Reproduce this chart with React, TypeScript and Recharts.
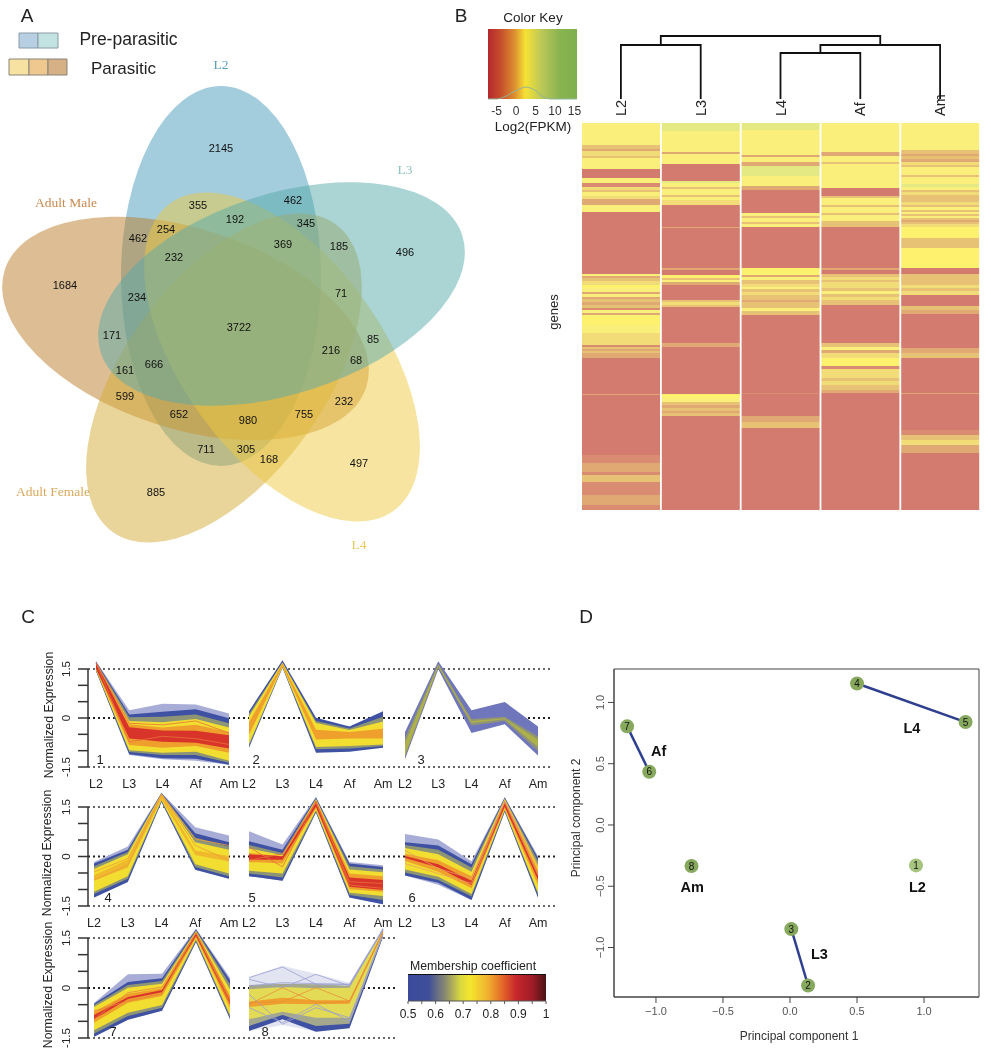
import {
  Area,
  AreaChart,
  Bar,
  BarChart,
  Cell,
  ComposedChart,
  Line,
  LineChart,
  ReferenceArea,
  ReferenceLine,
  Scatter,
  ScatterChart,
  XAxis,
  YAxis,
} from "recharts"

const SANS = '"Liberation Sans", Arial, sans-serif'
const SERIF = '"Liberation Serif", serif'

// ---- Panel A: Venn ----
const lobeNames = ["L2", "Adult Male", "Adult Female", "L4", "L3"]
const lobeX = [221, 185.5, 224, 282, 281.5]
const lobeY = [276, 328.5, 378, 357, 294]
const lobeTilt = [0, -72, 36, -36, 72]
const lobeFill = ["#4799BB", "#BB7D29", "#D3A935", "#EDC941", "#57A9A9"]

const vennCounts = [2145, 462, 355, 192, 345, 254, 462, 369, 185, 232, 496, 1684, 234, 71, 3722, 171, 85, 216, 68, 666, 161, 599, 232, 652, 755, 980, 711, 305, 168, 497, 885]
const vennCountX = [221, 293, 198, 235, 306, 166, 138, 283, 339, 174, 405, 65, 137, 341, 239, 112, 373, 331, 356, 154, 125, 125, 344, 179, 304, 248, 206, 246, 269, 359, 156]
const vennCountY = [148, 200, 205, 219, 223, 229, 238, 244, 246, 257, 252, 285, 297, 293, 327, 335, 339, 350, 360, 364, 370, 396, 401, 414, 414, 420, 449, 449, 459, 463, 492]

const vennLabels = ["L2", "L3", "Adult Male", "Adult Female", "L4"]
const vennLabelX = [221, 405, 66, 53, 359]
const vennLabelY = [65, 170, 203, 492, 545]
const vennLabelFill = ["#5B9FC0", "#8FC4C4", "#C9894F", "#D9A95B", "#ECC860"]

// ---- Panel B: heatmap, [rows, level] from top to bottom ----
const stages = ["L2", "L3", "L4", "Af", "Am"]
const heatLevelFill = ["#D47B70", "#D98C72", "#E0A872", "#E8C274", "#F2DC78", "#FBEF7C", "#FDF16E", "#E4E984"]

const heatL2 = [[22,5],[4,3],[2,2],[5,4],[2,3],[11,5],[9,0],[5,5],[4,1],[3,4],[2,3],[4,5],[3,4],[6,2],[7,5],[62,0],[2,5],[2,2],[3,3],[4,4],[3,6],[4,5],[2,2],[3,5],[2,2],[3,3],[3,2],[3,3],[2,1],[3,5],[2,2],[10,6],[8,5],[12,4],[2,1],[2,3],[2,2],[2,3],[2,2],[3,2],[36,0],[1,2],[60,0],[8,1],[9,2],[3,1],[7,3],[13,1],[10,2],[5,1]]
const heatL3 = [[8,7],[21,5],[2,2],[10,5],[17,0],[2,7],[4,5],[2,3],[6,5],[2,3],[3,5],[5,4],[22,0],[1,2],[40,0],[2,2],[5,0],[3,6],[2,3],[2,5],[3,2],[15,0],[2,3],[3,4],[2,3],[36,0],[4,2],[47,0],[4,6],[4,5],[3,3],[3,2],[3,3],[2,2],[3,3],[94,0]]
const heatL4 = [[7,7],[7,5],[18,5],[2,2],[5,5],[4,2],[10,7],[10,5],[4,2],[23,0],[3,5],[2,3],[4,5],[2,3],[3,5],[41,0],[7,6],[2,2],[3,5],[4,3],[3,4],[2,5],[3,3],[3,4],[5,3],[2,2],[6,3],[3,5],[4,3],[78,0],[1,1],[22,0],[6,2],[6,3],[82,0]]
const heatAf = [[29,5],[4,2],[6,5],[2,3],[24,5],[8,0],[2,3],[7,5],[2,3],[6,5],[2,3],[6,5],[6,3],[41,0],[2,2],[4,0],[3,3],[3,4],[2,3],[6,4],[3,3],[3,5],[3,3],[3,4],[5,3],[38,0],[4,3],[3,5],[3,2],[5,4],[8,6],[3,1],[9,4],[3,3],[4,4],[5,3],[3,2],[117,0]]
const heatAm = [[27,5],[4,3],[2,2],[3,3],[3,2],[3,4],[2,3],[8,5],[2,3],[7,5],[3,7],[3,5],[2,3],[3,4],[3,3],[4,3],[3,4],[2,3],[3,5],[2,3],[2,5],[2,3],[2,5],[2,3],[2,2],[2,3],[3,4],[11,6],[10,3],[20,6],[6,0],[11,3],[3,4],[3,3],[4,4],[11,0],[4,3],[4,2],[34,0],[5,2],[5,3],[35,0],[1,2],[36,0],[5,1],[5,3],[5,4],[8,2],[57,0]]
const heatColumns = [heatL2, heatL3, heatL4, heatAf, heatAm]
const heatBandCount = Math.max(...heatColumns.map((c) => c.length))
const heatRows = stages.map((stage, i) => {
  const row: Record<string, number | string> = { stage }
  heatColumns[i].forEach((band, j) => {
    row[`b${j}`] = band[0]
  })
  return row
})

// dendrogram over the heatmap columns (leaf position, merge height)
const dendroBranches = [
  { leaf: [1, 1, 2, 2], height: [0, 54, 54, 0] },
  { leaf: [3, 3, 4, 4], height: [0, 46, 46, 0] },
  { leaf: [3.5, 3.5, 5, 5], height: [46, 54, 54, 0] },
  { leaf: [1.5, 1.5, 4.25, 4.25], height: [54, 63, 63, 54] },
]

const keyX = [-7.2, -5, -3, 0, 2.5, 5, 7, 9, 15.64]
const keyDensity = [0, 0, 0.03, 0.12, 0.17, 0.12, 0.03, 0, 0]
const keyRows = keyX.map((x, i) => ({ x, band: 1, density: keyDensity[i] }))
const keyTicks = [-5, 0, 5, 10, 15]

// ---- Panel C: clusters, each layer is a high and a low profile over the stages ----
const shadeHaze = "#A7ADD6"
const shadeBlue = "#3F51A2"
const shadeOlive = "#8D9575"
const shadeYellow = "#F2DE30"
const shadeOrange = "#EFA02C"
const shadeRed = "#D9342A"

const cluster1Hi = [[1.75,0.25,0.45,0.42,0.15],[1.74,0.12,0.2,0.28,0],[1.72,0.03,0.05,0.12,-0.15],[1.7,-0.08,-0.12,-0.02,-0.28],[1.7,-0.18,-0.28,-0.2,-0.42],[1.7,-0.27,-0.37,-0.38,-0.52]]
const cluster1Lo = [[1.45,-1.12,-1.25,-1.3,-1.42],[1.45,-1.1,-1.22,-1.24,-1.42],[1.47,-1.03,-1.12,-1.12,-1.36],[1.48,-0.98,-1.05,-1.02,-1.3],[1.5,-0.82,-0.9,-0.85,-1.05],[1.52,-0.62,-0.72,-0.75,-0.92]]
const cluster2Hi = [[0.22,1.78,0.02,-0.25,0.22],[0.14,1.72,-0.08,-0.31,0.05],[0.06,1.7,-0.14,-0.36,-0.1],[-0.12,1.68,-0.35,-0.42,-0.32]]
const cluster2Lo = [[-0.9,1.55,-1.05,-1.02,-0.9],[-0.85,1.57,-0.95,-0.92,-0.85],[-0.78,1.58,-0.88,-0.85,-0.8],[-0.5,1.6,-0.65,-0.62,-0.62]]
const cluster3Hi = [[-0.42,1.75,0.25,0.5,-0.25],[-0.6,1.68,-0.02,0.05,-0.55],[-0.75,1.64,-0.08,0,-0.65]]
const cluster3Lo = [[-1.25,1.5,-0.45,-0.18,-1.14],[-1.2,1.56,-0.22,-0.08,-1],[-1.12,1.58,-0.14,-0.03,-0.88]]
const cluster4Hi = [[-0.15,0.32,1.95,0.9,0.65],[-0.2,0.22,1.94,0.72,0.45],[-0.28,0.15,1.93,0.58,0.32],[-0.36,0.08,1.92,0.45,0.22],[-0.55,-0.08,1.9,0.2,0.03]]
const cluster4Lo = [[-1.23,-0.76,1.67,-0.39,-0.66],[-1.23,-0.76,1.67,-0.39,-0.66],[-1.12,-0.66,1.7,-0.3,-0.58],[-1.05,-0.58,1.72,-0.22,-0.5],[-0.72,-0.32,1.75,0.06,-0.14]]
const cluster5Hi = [[0.78,0.38,1.82,-0.15,-0.25],[0.48,0.22,1.8,-0.2,-0.3],[0.36,0.12,1.77,-0.28,-0.38],[0.26,0.05,1.75,-0.38,-0.46],[0.12,0.03,1.72,-0.5,-0.58],[0.08,0.02,1.65,-0.62,-0.7]]
const cluster5Lo = [[-0.58,-0.72,1.35,-1.23,-1.43],[-0.58,-0.72,1.35,-1.23,-1.43],[-0.5,-0.62,1.38,-1.15,-1.3],[-0.42,-0.5,1.42,-1.08,-1.18],[-0.15,-0.2,1.48,-0.98,-1.05],[-0.08,-0.08,1.52,-0.9,-1]]
const cluster6Hi = [[0.7,0.53,-0.13,1.82,0.02],[0.45,0.35,-0.22,1.8,-0.03],[0.36,0.22,-0.32,1.78,-0.12],[0.27,0.08,-0.45,1.76,-0.25],[0.1,-0.1,-0.58,1.72,-0.4],[0.03,-0.22,-0.72,1.68,-0.52]]
const cluster6Lo = [[-0.56,-0.84,-1.3,1.37,-1.23],[-0.56,-0.78,-1.3,1.37,-1.23],[-0.47,-0.7,-1.2,1.4,-1.14],[-0.38,-0.6,-1.12,1.43,-1.08],[-0.12,-0.45,-0.95,1.48,-0.85],[-0.03,-0.32,-0.85,1.52,-0.7]]
const cluster7Hi = [[-0.46,0.4,0.42,1.77,0.3],[-0.48,0.17,0.28,1.75,0.22],[-0.52,0.08,0.2,1.72,0.1],[-0.58,0,0.12,1.7,-0.05],[-0.72,-0.18,-0.02,1.68,-0.25],[-0.82,-0.28,-0.07,1.63,-0.38]]
const cluster7Lo = [[-1.47,-0.96,-0.69,1.37,-0.94],[-1.47,-0.96,-0.69,1.37,-0.94],[-1.38,-0.85,-0.6,1.4,-0.88],[-1.28,-0.75,-0.52,1.45,-0.82],[-1.05,-0.45,-0.25,1.5,-0.6],[-0.95,-0.34,-0.14,1.55,-0.5]]
const cluster8Hi = [[0.32,0.66,0.42,0.15,1.82],[-0.95,-0.55,-1,-0.95,1.78],[0.08,0.12,0.1,0.06,1.76],[-0.05,0.02,-0.02,0,1.74],[-0.42,-0.3,-0.38,-0.38,1.7]]
const cluster8Lo = [[-1.3,-1.12,-1.32,-1.2,1.52],[-1.3,-0.95,-1.32,-1.22,1.52],[-1.15,-0.82,-1.15,-1.08,1.56],[-0.95,-0.72,-0.9,-0.9,1.58],[-0.58,-0.48,-0.5,-0.48,1.62]]

const fullShades = [shadeHaze, shadeBlue, shadeOlive, shadeYellow, shadeOrange, shadeRed]
const clusterShades = [
  fullShades,
  [shadeBlue, shadeOlive, shadeYellow, shadeOrange],
  ["#6F76BC", "#8F9378", "#AEB04A"],
  [shadeHaze, shadeBlue, shadeOlive, shadeYellow, "#F0B82C"],
  fullShades,
  fullShades,
  fullShades,
  ["#E2E4F2", shadeBlue, "#A3A78E", "#E3DA55", shadeOrange],
]
const clusterHi = [cluster1Hi, cluster2Hi, cluster3Hi, cluster4Hi, cluster5Hi, cluster6Hi, cluster7Hi, cluster8Hi]
const clusterLo = [cluster1Lo, cluster2Lo, cluster3Lo, cluster4Lo, cluster5Lo, cluster6Lo, cluster7Lo, cluster8Lo]

// single thin profiles drawn over the bands
const cluster1Strands = [[1.7,-0.15,-0.2,-0.08,-0.45],[1.7,-0.72,-0.55,-0.62,-0.8]]
const cluster4Strands = [[-0.7,-0.25,1.9,0.35,-0.1],[-0.45,-0.05,1.88,0.55,0.35]]
const cluster5Strands = [[0.3,-0.3,1.7,-0.85,-0.95],[-0.1,0.1,1.65,-0.75,-0.8]]
const cluster6Strands = [[0.2,-0.35,-0.65,1.7,-0.3],[-0.2,-0.5,-0.8,1.66,-0.55]]
const cluster7Strands = [[-0.95,-0.15,0.02,1.65,-0.3],[-0.7,-0.4,-0.18,1.65,-0.45]]
const cluster8Orange = [[-0.5,0,-0.45,-0.42,1.68],[-0.45,-0.42,0,-0.4,1.68]]
const cluster8Lavender = [[0.3,0.62,0.1,0.1,1.75],[0.25,0,0.4,0.05,1.75],[-0.2,-1.1,-0.6,-0.9,1.6],[-0.6,-1.05,-0.5,-1,1.6],[0.05,0.15,0.12,0.1,1.72]]
const clusterStrands = [
  [{ shade: "#E8703A", lines: cluster1Strands }],
  [],
  [],
  [{ shade: "#EE9A3A", lines: cluster4Strands }],
  [{ shade: "#E8703A", lines: cluster5Strands }],
  [{ shade: "#E8A060", lines: cluster6Strands }],
  [{ shade: "#E8803A", lines: cluster7Strands }],
  [{ shade: "#9AA0D0", lines: cluster8Lavender }, { shade: "#E8903A", lines: cluster8Orange }],
]

const expressionTicks = [-1.5, -1, -0.5, 0, 0.5, 1, 1.5]
const axisStub = [{ x: 0, v: 0 }, { x: 1, v: 0 }]

const membershipX = [0.5, 1]
const membershipRows = membershipX.map((x) => ({ x, band: 1 }))
const membershipTicks = [0.5, 0.55, 0.6, 0.65, 0.7, 0.75, 0.8, 0.85, 0.9, 0.95, 1]

// ---- Panel D: PCA ----
const pcaSample = [1, 2, 3, 4, 5, 6, 7, 8]
const pcaX = [0.94, 0.135, 0.01, 0.5, 1.31, -1.05, -1.215, -0.735]
const pcaY = [-0.33, -1.31, -0.85, 1.155, 0.84, 0.435, 0.805, -0.335]
const pcaPoints = pcaSample.map((id, i) => ({ id, x: pcaX[i], y: pcaY[i] }))
const pcaPairs = [[3, 4], [5, 6], [2, 1]]
const pcaStage = ["L4", "Af", "Am", "L2", "L3"]
const pcaStageX = [0.91, -0.98, -0.73, 0.95, 0.22]
const pcaStageY = [0.79, 0.6, -0.505, -0.505, -1.05]
const pcaStages = pcaStage.map((name, i) => ({ name, x: pcaStageX[i], y: pcaStageY[i] }))
const pcaTicks = [-1, -0.5, 0, 0.5, 1]

type PageTextProps = {
  x: number
  y: number
  size: number
  children: string
  rotate?: number
  weight?: number
  color?: string
}

function PageText({ x, y, size, children, rotate = 0, weight = 400, color = "#222" }: PageTextProps) {
  return (
    <span
      style={{
        position: "absolute",
        left: x,
        top: y,
        fontFamily: SANS,
        fontSize: size,
        fontWeight: weight,
        color,
        lineHeight: 1,
        whiteSpace: "nowrap",
        transform: `translate(-50%, -50%) rotate(${rotate}deg)`,
      }}
    >
      {children}
    </span>
  )
}

function VennPanel() {
  const lobes = lobeNames.map((name, i) => ({
    name,
    x: lobeX[i],
    y: lobeY[i],
    tilt: lobeTilt[i],
    fill: lobeFill[i],
  }))
  const counts = vennCounts.map((n, i) => ({ n, x: vennCountX[i], y: vennCountY[i] }))
  const labels = vennLabels.map((name, i) => ({ name, x: vennLabelX[i], y: vennLabelY[i], fill: vennLabelFill[i] }))
  return (
    <div style={{ position: "absolute", left: 0, top: 0 }}>
      <ScatterChart width={480} height={570} margin={{ top: 0, right: 0, bottom: 0, left: 0 }}>
        <XAxis type="number" dataKey="x" domain={[0, 480]} hide />
        <YAxis type="number" dataKey="y" domain={[0, 570]} reversed hide />
        <ReferenceArea x1={19} x2={38} y1={33} y2={48} fill="#B6CFE2" fillOpacity={1} stroke="#8A9AA5" />
        <ReferenceArea x1={38} x2={58} y1={33} y2={48} fill="#C3E2E2" fillOpacity={1} stroke="#8A9AA5" />
        <ReferenceArea x1={9} x2={29} y1={59} y2={75} fill="#F7E2A2" fillOpacity={1} stroke="#8A8478" />
        <ReferenceArea x1={29} x2={48} y1={59} y2={75} fill="#EEC88E" fillOpacity={1} stroke="#8A8478" />
        <ReferenceArea x1={48} x2={67} y1={59} y2={75} fill="#D6B186" fillOpacity={1} stroke="#8A8478" />
        <Scatter
          data={lobes}
          isAnimationActive={false}
          shape={(p: any) => (
            <ellipse
              cx={p.cx}
              cy={p.cy}
              rx={100}
              ry={190}
              transform={`rotate(${p.payload.tilt} ${p.cx} ${p.cy})`}
              fill={p.payload.fill}
              fillOpacity={0.5}
            />
          )}
        />
        <Scatter
          data={counts}
          isAnimationActive={false}
          shape={(p: any) => (
            <text x={p.cx} y={p.cy} dy={3.8} textAnchor="middle" fontFamily={SANS} fontSize={11} fill="#111">
              {p.payload.n}
            </text>
          )}
        />
        <Scatter
          data={labels}
          isAnimationActive={false}
          shape={(p: any) => (
            <text x={p.cx} y={p.cy} dy={4} textAnchor="middle" fontFamily={SERIF} fontSize={13.5} fontWeight={400} fill={p.payload.fill}>
              {p.payload.name}
            </text>
          )}
        />
      </ScatterChart>
    </div>
  )
}

function HeatmapPanel() {
  return (
    <>
      <div style={{ position: "absolute", left: 581, top: 93 }}>
        <BarChart
          width={399}
          height={417}
          data={heatRows}
          barCategoryGap={1}
          margin={{ top: 0, right: 0, bottom: 0, left: 0 }}
        >
          <XAxis
            dataKey="stage"
            orientation="top"
            height={30}
            axisLine={false}
            tickLine={false}
            tick={(p: any) => (
              <text
                x={p.x}
                y={p.y}
                transform={`rotate(-90 ${p.x} ${p.y})`}
                dx={-1}
                dy={5}
                textAnchor="start"
                fontFamily={SANS}
                fontSize={14.5}
                fill="#222"
              >
                {p.payload.value}
              </text>
            )}
          />
          <YAxis type="number" domain={[0, 387]} reversed hide />
          {Array.from({ length: heatBandCount }, (_, j) => (
            <Bar key={j} dataKey={`b${j}`} stackId="heat" isAnimationActive={false}>
              {heatColumns.map((col, i) => (
                <Cell key={i} fill={col[j] ? heatLevelFill[col[j][1]] : "none"} />
              ))}
            </Bar>
          ))}
        </BarChart>
      </div>
      <div style={{ position: "absolute", left: 581, top: 30 }}>
        <LineChart width={399} height={69} margin={{ top: 0, right: 0, bottom: 0, left: 0 }}>
          <XAxis type="number" dataKey="leaf" domain={[0.5, 5.5]} hide />
          <YAxis type="number" domain={[0, 69]} hide />
          {dendroBranches.map((branch, i) => (
            <Line
              key={i}
              data={branch.leaf.map((leaf, k) => ({ leaf, height: branch.height[k] }))}
              dataKey="height"
              stroke="#111"
              strokeWidth={1.8}
              dot={false}
              isAnimationActive={false}
            />
          ))}
        </LineChart>
      </div>
      <div style={{ position: "absolute", left: 440, top: 20 }}>
        <ComposedChart width={155} height={100} data={keyRows} margin={{ top: 9, right: 18, bottom: 0, left: 0 }}>
          <defs>
            <linearGradient id="keyGradient" x1="0" y1="0" x2="1" y2="0">
              <stop offset="0" stopColor="#B3282C" />
              <stop offset="0.15" stopColor="#C8502C" />
              <stop offset="0.3" stopColor="#DC9030" />
              <stop offset="0.42" stopColor="#F6E234" />
              <stop offset="0.6" stopColor="#BCC858" />
              <stop offset="0.8" stopColor="#8AB450" />
              <stop offset="1" stopColor="#7FB04E" />
            </linearGradient>
          </defs>
          <XAxis
            type="number"
            dataKey="x"
            domain={[-7.2, 15.64]}
            ticks={keyTicks}
            interval={0}
            height={21}
            axisLine={false}
            tickLine={false}
            tickMargin={1}
            tick={{ fontFamily: SANS, fontSize: 12, fill: "#333" }}
          />
          <YAxis
            type="number"
            domain={[0, 1]}
            width={48}
            ticks={[0.1, 0.3, 0.5, 0.7, 0.9]}
            tick={false}
            axisLine={false}
            tickSize={2}
            stroke="#888"
          />
          <Area dataKey="band" type="linear" stroke="none" fill="url(#keyGradient)" fillOpacity={1} dot={false} activeDot={false} isAnimationActive={false} />
          <Line dataKey="density" type="monotone" stroke="#8FB79A" strokeWidth={1} dot={false} isAnimationActive={false} />
        </ComposedChart>
      </div>
      <PageText x={533} y={18} size={13.5}>Color Key</PageText>
      <PageText x={533} y={127} size={13.5}>Log2(FPKM)</PageText>
      <PageText x={553} y={312} size={13} rotate={-90}>genes</PageText>
    </>
  )
}

type RowFrame = { top: number; bottom: number; reach: number }

function ExpressionAxis({ top, bottom, reach }: RowFrame) {
  return (
    <div style={{ position: "absolute", left: 0, top: top - 10 }}>
      <LineChart
        width={reach}
        height={bottom - top + 20}
        data={axisStub}
        margin={{ top: 10, right: 0, bottom: 10, left: 0 }}
      >
        <XAxis dataKey="x" hide />
        <YAxis
          type="number"
          domain={[-1.5, 1.5]}
          ticks={expressionTicks}
          interval={0}
          width={88}
          stroke="#333"
          strokeWidth={1.5}
          tickSize={10}
          tick={(p: any) =>
            Math.abs(p.payload.value) === 0.5 || Math.abs(p.payload.value) === 1 ? (
              <g />
            ) : (
              <text
                x={66}
                y={p.y}
                transform={`rotate(-90 66 ${p.y})`}
                dy={4}
                textAnchor="middle"
                fontFamily={SANS}
                fontSize={11.5}
                strokeWidth={0}
                fill="#222"
              >
                {p.payload.value}
              </text>
            )
          }
        />
        <Line dataKey="v" stroke="none" dot={false} isAnimationActive={false} />
        <ReferenceLine y={1.5} stroke="#333" strokeWidth={1.5} strokeDasharray="2 3" />
        <ReferenceLine y={0} stroke="#222" strokeWidth={2} strokeDasharray="2 3" />
        <ReferenceLine y={-1.5} stroke="#333" strokeWidth={1.5} strokeDasharray="2 3" />
      </LineChart>
    </div>
  )
}

type ClusterProps = { index: number; left: number; right: number; top: number; bottom: number; labelled: boolean }

function ClusterChart({ index, left, right, top, bottom, labelled }: ClusterProps) {
  const hi = clusterHi[index]
  const lo = clusterLo[index]
  const strands = clusterStrands[index].flatMap((group) => group.lines.map((line) => ({ shade: group.shade, line })))
  const rows = stages.map((stage, s) => {
    const row: Record<string, any> = { stage }
    hi.forEach((layer, l) => {
      row[`l${l}`] = [lo[l][s], layer[s]]
    })
    strands.forEach((strand, k) => {
      row[`s${k}`] = strand.line[s]
    })
    return row
  })
  // domain stops at -1.5 so the plot bottom is the lower dotted line, and runs to 2 for the peaks
  const unit = (bottom - top) / 3
  const plotTop = top - unit / 2
  const axisHeight = 30
  return (
    <div style={{ position: "absolute", left: left - 24, top: plotTop }}>
      <ComposedChart
        width={right - left + 48}
        height={bottom - plotTop + axisHeight}
        data={rows}
        margin={{ top: 0, right: 24, bottom: 0, left: 24 }}
      >
        <XAxis
          dataKey="stage"
          scale="point"
          padding={{ left: 0, right: 0 }}
          interval={0}
          height={axisHeight}
          axisLine={false}
          tickLine={false}
          tickMargin={6}
          tick={labelled ? { fontFamily: SANS, fontSize: 12.5, fill: "#222" } : false}
        />
        <YAxis type="number" domain={[-1.5, 2]} hide />
        {hi.map((_, l) => (
          <Area
            key={l}
            dataKey={`l${l}`}
            type="linear"
            stroke="none"
            fill={clusterShades[index][l]}
            fillOpacity={1}
            dot={false}
            activeDot={false}
            isAnimationActive={false}
          />
        ))}
        {strands.map((strand, k) => (
          <Line
            key={k}
            dataKey={`s${k}`}
            type="linear"
            stroke={strand.shade}
            strokeWidth={0.8}
            dot={false}
            activeDot={false}
            isAnimationActive={false}
          />
        ))}
      </ComposedChart>
    </div>
  )
}

function ClusterPanel() {
  return (
    <>
      <ExpressionAxis top={669} bottom={767} reach={553} />
      <ExpressionAxis top={807} bottom={906} reach={555} />
      <ExpressionAxis top={938} bottom={1038} reach={397} />
      <ClusterChart index={0} left={96} right={229} top={669} bottom={767} labelled />
      <ClusterChart index={1} left={249} right={383} top={669} bottom={767} labelled />
      <ClusterChart index={2} left={405} right={538} top={669} bottom={767} labelled />
      <ClusterChart index={3} left={94} right={229} top={807} bottom={906} labelled />
      <ClusterChart index={4} left={249} right={383} top={807} bottom={906} labelled />
      <ClusterChart index={5} left={405} right={538} top={807} bottom={906} labelled />
      <ClusterChart index={6} left={94} right={230} top={938} bottom={1038} labelled={false} />
      <ClusterChart index={7} left={249} right={383} top={938} bottom={1038} labelled={false} />
      <PageText x={100} y={759} size={13}>1</PageText>
      <PageText x={256} y={759} size={13}>2</PageText>
      <PageText x={421} y={759} size={13}>3</PageText>
      <PageText x={108} y={897} size={13}>4</PageText>
      <PageText x={252} y={897} size={13}>5</PageText>
      <PageText x={412} y={897} size={13}>6</PageText>
      <PageText x={113} y={1031} size={13}>7</PageText>
      <PageText x={265} y={1031} size={13}>8</PageText>
      <PageText x={49} y={715} size={12.3} rotate={-90}>Normalized Expression</PageText>
      <PageText x={47} y={853} size={12.3} rotate={-90}>Normalized Expression</PageText>
      <PageText x={48} y={985} size={12.3} rotate={-90}>Normalized Expression</PageText>
      <div style={{ position: "absolute", left: 380, top: 974 }}>
        <AreaChart width={190} height={52} data={membershipRows} margin={{ top: 0, right: 24, bottom: 0, left: 28 }}>
          <defs>
            <linearGradient id="memberGradient" x1="0" y1="0" x2="1" y2="0">
              <stop offset="0" stopColor="#3B4A9B" />
              <stop offset="0.15" stopColor="#3F4F9A" />
              <stop offset="0.27" stopColor="#8A8A70" />
              <stop offset="0.38" stopColor="#D8D840" />
              <stop offset="0.45" stopColor="#F5E62E" />
              <stop offset="0.58" stopColor="#F0B030" />
              <stop offset="0.68" stopColor="#E56A28" />
              <stop offset="0.78" stopColor="#C8282C" />
              <stop offset="0.9" stopColor="#A01C28" />
              <stop offset="1" stopColor="#4A1414" />
            </linearGradient>
          </defs>
          <XAxis
            type="number"
            dataKey="x"
            domain={[0.5, 1]}
            ticks={membershipTicks}
            interval={0}
            height={25}
            stroke="#555"
            tickSize={3}
            tickMargin={5}
            tickFormatter={(v: number) => (Math.round(v * 100) % 10 === 0 ? String(v) : "")}
            tick={{ fontFamily: SANS, fontSize: 12, fill: "#222" }}
          />
          <YAxis type="number" domain={[0, 1]} hide />
          <Area dataKey="band" type="linear" stroke="none" fill="url(#memberGradient)" fillOpacity={1} dot={false} activeDot={false} isAnimationActive={false} />
          <ReferenceLine y={1} stroke="#111" strokeWidth={2} />
        </AreaChart>
      </div>
      <PageText x={473} y={966} size={12.3}>Membership coefficient</PageText>
    </>
  )
}

function PcaPanel() {
  return (
    <>
      <div style={{ position: "absolute", left: 560, top: 650 }}>
        <ScatterChart width={431} height={400} margin={{ top: 19, right: 12, bottom: 0, left: 0 }}>
          <XAxis
            type="number"
            dataKey="x"
            domain={[-1.313, 1.41]}
            ticks={pcaTicks}
            interval={0}
            height={53}
            stroke="#444"
            tickSize={6}
            tickMargin={4}
            tickFormatter={(v: number) => (v < 0 ? `\u2212${Math.abs(v).toFixed(1)}` : v.toFixed(1))}
            tick={{ fontFamily: SANS, fontSize: 11, fill: "#555" }}
          />
          <YAxis
            type="number"
            dataKey="y"
            domain={[-1.404, 1.273]}
            ticks={pcaTicks}
            interval={0}
            width={54}
            stroke="#444"
            tickSize={6}
            tick={(p: any) => (
              <text
                x={p.x - 2}
                y={p.y}
                transform={`rotate(-90 ${p.x - 2} ${p.y})`}
                textAnchor="middle"
                fontFamily={SANS}
                fontSize={11}
                fill="#555"
              >
                {p.payload.value < 0 ? `\u2212${Math.abs(p.payload.value).toFixed(1)}` : p.payload.value.toFixed(1)}
              </text>
            )}
          />
          <ReferenceArea x1={-1.313} x2={1.41} y1={-1.404} y2={1.273} fill="none" stroke="#444" strokeWidth={1} />
          {pcaPairs.map((pair, i) => (
            <Scatter
              key={i}
              data={pair.map((k) => pcaPoints[k])}
              line={{ stroke: "#2F3F8F", strokeWidth: 2.5 }}
              shape={() => <g />}
              isAnimationActive={false}
            />
          ))}
          <Scatter
            data={pcaPoints}
            isAnimationActive={false}
            shape={(p: any) => (
              <g>
                <circle cx={p.cx} cy={p.cy} r={7} fill={p.payload.id === 1 ? "#A6C480" : "#86A95E"} />
                <text x={p.cx} y={p.cy} dy={3.5} textAnchor="middle" fontFamily={SANS} fontSize={10} fill="#111">
                  {p.payload.id}
                </text>
              </g>
            )}
          />
          <Scatter
            data={pcaStages}
            isAnimationActive={false}
            shape={(p: any) => (
              <text x={p.cx} y={p.cy} dy={5} textAnchor="middle" fontFamily={SANS} fontSize={14.5} fontWeight={700} fill="#111">
                {p.payload.name}
              </text>
            )}
          />
        </ScatterChart>
      </div>
      <PageText x={799} y={1036} size={12} color="#333">Principal component 1</PageText>
      <PageText x={576} y={818} size={12} rotate={-90} color="#333">Principal component 2</PageText>
    </>
  )
}

export default function App() {
  return (
    <div
      style={{
        position: "absolute",
        left: 0,
        top: 0,
        width: 991,
        height: 1050,
        background: "#fff",
        overflow: "hidden",
        filter: "blur(0.4px)",
      }}
    >
      <VennPanel />
      <HeatmapPanel />
      <ClusterPanel />
      <PcaPanel />
      <PageText x={27} y={15} size={19}>A</PageText>
      <PageText x={461} y={15} size={19}>B</PageText>
      <PageText x={28} y={616} size={19}>C</PageText>
      <PageText x={586} y={616} size={19}>D</PageText>
      <PageText x={128.5} y={40} size={17.5}>Pre-parasitic</PageText>
      <PageText x={123.5} y={68} size={17}>Parasitic</PageText>
    </div>
  )
}
